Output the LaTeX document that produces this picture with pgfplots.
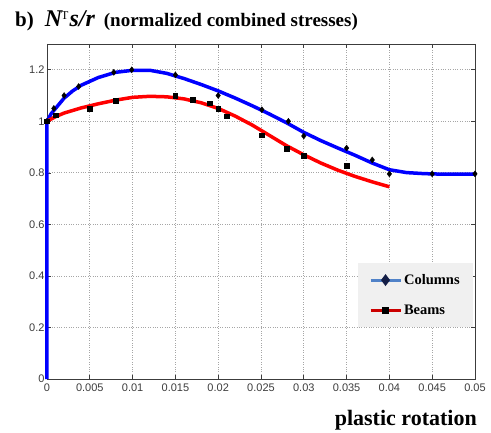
\documentclass[border=0pt]{standalone}
\usepackage{fontspec}
\setmainfont{Liberation Serif}
\newfontfamily\sansf{Liberation Sans}
\usepackage{pgfplots}
\pgfplotsset{compat=1.18}
\definecolor{legblue}{RGB}{80,130,200}
\definecolor{legred}{RGB}{204,0,0}
\definecolor{navy}{RGB}{20,30,70}
\definecolor{axgray}{RGB}{60,60,60}
\begin{document}
\begin{tikzpicture}
\useasboundingbox (0,0) rectangle (491pt,432pt);
\node[anchor=base west,inner sep=0pt] at (15pt,405pt) {\bfseries\fontsize{21}{26}\selectfont b)\hspace{11pt}{\itshape\fontsize{24}{26}\selectfont N}\hspace{-1pt}\raisebox{0.75ex}{\normalfont\fontsize{12}{12}\selectfont T}\hspace{1pt}{\itshape\fontsize{24}{26}\selectfont s/r}\hspace{9pt}\fontsize{19}{22}\selectfont (normalized combined stresses)};
\node[anchor=base east,inner sep=0pt] at (477pt,6pt) {\bfseries\fontsize{22}{26}\selectfont plastic rotation};
\begin{axis}[
  at={(47pt,53pt)}, anchor=south west,
  scale only axis, width=428pt, height=335pt,
  xmin=0, xmax=0.05, ymin=0, ymax=1.3,
  scaled x ticks=false, scaled y ticks=false,
  xtick={0,0.005,0.01,0.015,0.02,0.025,0.03,0.035,0.04,0.045,0.05},
  xticklabels={0,0.005,0.01,0.015,0.02,0.025,0.03,0.035,0.04,0.045,0.05},
  ytick={0,0.2,0.4,0.6,0.8,1,1.2},
  yticklabels={0,0.2,0.4,0.6,0.8,1,1.2},
  tick label style={font=\sansf\fontsize{11}{13}\selectfont, text=axgray},
  xticklabel style={yshift=-1pt},
  yticklabel style={xshift=1pt},
  tick align=inside, major tick length=4pt,
  tick style={axgray, line width=0.6pt},
  axis line style={axgray, line width=0.8pt},
  grid=major,
  grid style={gray!70, dotted, line width=0.7pt},
  clip=false,
  legend style={at={(0.995,0.346)}, anchor=north east, fill=black!6, draw=none,
    font=\bfseries\fontsize{14.5}{16}\selectfont, row sep=15pt, inner xsep=11pt, inner ysep=9pt},
  legend cell align=left,
  legend image code/.code={\draw[mark repeat=2,mark phase=2,#1] plot coordinates {(0pt,0pt)(15pt,0pt)(30pt,0pt)};},
]
% Columns curve
\addplot[blue, line width=3.5pt, forget plot] coordinates {
(0,0) (0,1.0) (0.0005,1.03) (0.001,1.05) (0.002,1.09) (0.003,1.118) (0.004,1.14)
(0.006,1.17) (0.008,1.19) (0.010,1.198) (0.012,1.198) (0.014,1.186) (0.016,1.166)
(0.018,1.143) (0.020,1.118) (0.022,1.09) (0.024,1.06) (0.026,1.028) (0.028,0.994)
(0.030,0.957) (0.032,0.925) (0.034,0.896) (0.036,0.868) (0.038,0.838) (0.040,0.812)
(0.042,0.801) (0.044,0.797) (0.046,0.795) (0.050,0.795)};
% Beams curve
\addplot[red, line width=3.5pt, forget plot] coordinates {
(0,1.0) (0.001,1.018) (0.002,1.032) (0.004,1.052) (0.006,1.068) (0.008,1.082)
(0.010,1.093) (0.012,1.097) (0.014,1.095) (0.016,1.087) (0.018,1.072) (0.020,1.05)
(0.022,1.02) (0.024,0.985) (0.026,0.945) (0.028,0.905) (0.030,0.87) (0.032,0.838)
(0.034,0.81) (0.036,0.786) (0.038,0.765) (0.040,0.746)};
% Columns markers
\addplot[only marks, mark=diamond*, mark size=3pt, black, forget plot] coordinates {
(0,1.0) (0.0008,1.05) (0.002,1.10) (0.0037,1.135) (0.0078,1.19) (0.0099,1.20)
(0.015,1.18) (0.020,1.10) (0.0251,1.045) (0.0282,1.0) (0.030,0.943) (0.035,0.896)
(0.038,0.85) (0.040,0.796) (0.045,0.796) (0.050,0.796)};
% Beams markers
\addplot[only marks, mark=square*, mark size=2.3pt, black, forget plot] coordinates {
(0,1.0) (0.001,1.023) (0.005,1.05) (0.008,1.08) (0.015,1.10) (0.017,1.085)
(0.019,1.07) (0.020,1.05) (0.021,1.02) (0.0251,0.946) (0.028,0.894) (0.030,0.866)
(0.035,0.827)};
\addlegendimage{legblue, line width=3pt, mark=diamond*, mark options={navy, fill=navy, mark size=3.5pt}}
\addlegendentry{Columns}
\addlegendimage{legred, line width=3pt, mark=square*, mark options={black, fill=black, mark size=2.3pt}}
\addlegendentry{Beams}
\end{axis}
\end{tikzpicture}
\end{document}
